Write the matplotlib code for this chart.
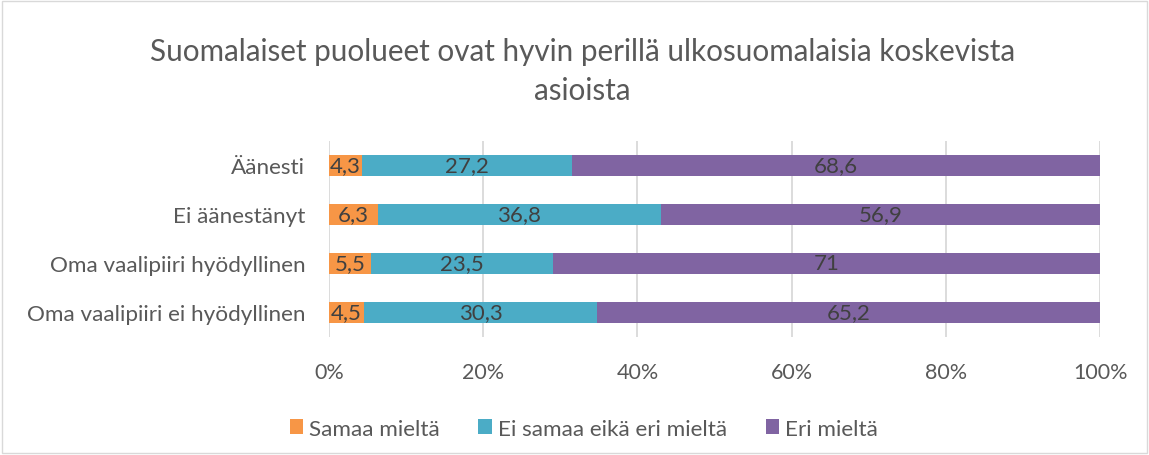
import matplotlib.pyplot as plt
from matplotlib.patches import Rectangle
import numpy as np

categories = ['Äänesti', 'Ei äänestänyt', 'Oma vaalipiiri hyödyllinen', 'Oma vaalipiiri ei hyödyllinen']
samaa = [4.3, 6.3, 5.5, 4.5]
neutral = [27.2, 36.8, 23.5, 30.3]
eri = [68.6, 56.9, 71.0, 65.2]
series_names = ['Samaa mieltä', 'Ei samaa eikä eri mieltä', 'Eri mieltä']
colors = ['#F79646', '#4BACC6', '#8064A2']
title = 'Suomalaiset puolueet ovat hyvin perillä ulkosuomalaisia koskevista\nasioista'

plt.rcParams['font.family'] = ['Lato', 'DejaVu Sans']

fig = plt.figure(figsize=(11.49, 4.56), dpi=100)
ax = fig.add_axes([0.2863, 0.2588, 0.6711, 0.4298])

y = np.arange(len(categories))
data = [samaa, neutral, eri]
left = np.zeros(len(categories))
for vals, name, col in zip(data, series_names, colors):
    vals = np.array(vals)
    bars = ax.barh(y, vals, left=left, height=0.41, color=col, label=name, zorder=3)
    labels = [('%g' % v).replace('.', ',') for v in vals]
    ax.bar_label(bars, labels=labels, label_type='center', fontsize=16, color='#404040')
    left += vals

ax.set_xlim(0, 100)
ax.set_ylim(len(categories) - 0.5, -0.5)
ax.set_yticks(y)
ax.set_yticklabels(categories, fontsize=16.2, color='#595959')
ax.set_xticks([0, 20, 40, 60, 80, 100])
ax.set_xticklabels(['0%', '20%', '40%', '60%', '80%', '100%'], fontsize=15.5, color='#595959')
ax.tick_params(axis='y', length=0, pad=17)
ax.tick_params(axis='x', length=0, pad=18)
ax.grid(axis='x', color='#D9D9D9', linewidth=1.3, zorder=0)
for s in ax.spines.values():
    s.set_visible(False)

fig.text(0.507, 0.843, title, ha='center', va='center', fontsize=21.3, color='#595959', linespacing=1.5)

fig.legend(loc='center', bbox_to_anchor=(0.508, 0.058), ncol=3, frameon=False, fontsize=16.2,
           handlelength=0.6, handleheight=0.6, handletextpad=0.26, columnspacing=1.72,
           labelcolor='#595959')

fig.patches.append(Rectangle((0.002, 0.004), 0.996, 0.992, transform=fig.transFigure,
                             fill=False, edgecolor='#D9D9D9', linewidth=1))

fig.savefig('out.png', dpi=100)
